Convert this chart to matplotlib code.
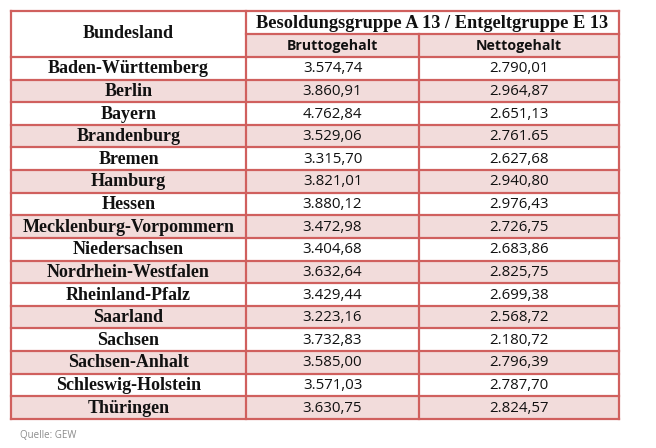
import matplotlib
matplotlib.use("Agg")
import matplotlib.pyplot as plt
from matplotlib.patches import Rectangle

states = ["Baden-Württemberg", "Berlin", "Bayern", "Brandenburg", "Bremen", "Hamburg",
          "Hessen", "Mecklenburg-Vorpommern", "Niedersachsen", "Nordrhein-Westfalen",
          "Rheinland-Pfalz", "Saarland", "Sachsen", "Sachsen-Anhalt",
          "Schleswig-Holstein", "Thüringen"]
brutto = ["3.574,74", "3.860,91", "4.762,84", "3.529,06", "3.315,70", "3.821,01",
          "3.880,12", "3.472,98", "3.404,68", "3.632,64", "3.429,44", "3.223,16",
          "3.732,83", "3.585,00", "3.571,03", "3.630,75"]
netto = ["2.790,01", "2.964,87", "2.651,13", "2.761.65", "2.627,68", "2.940,80",
         "2.976,43", "2.726,75", "2.683,86", "2.825,75", "2.699,38", "2.568,72",
         "2.180,72", "2.796,39", "2.787,70", "2.824,57"]
header_main = "Bundesland"
header_group = "Besoldungsgruppe A 13 / Entgeltgruppe E 13"
header_cols = ["Bruttogehalt", "Nettogehalt"]
source = "Quelle: GEW"

W, H = 656, 448
fig = plt.figure(figsize=(W / 100, H / 100), dpi=100)
ax = fig.add_axes([0, 0, 1, 1])
ax.set_xlim(0, W)
ax.set_ylim(H, 0)
ax.axis("off")

border = "#D0605E"
pink = "#F2DCDB"
x0, x1, x2, x3 = 11, 246, 419, 619
y0, yh1, yh2, y_end = 11, 34, 57, 419
n = len(states)
rh = (y_end - yh2) / n

serif = ["Liberation Serif", "DejaVu Serif"]
sans = ["Open Sans", "DejaVu Sans"]

# backgrounds
ax.add_patch(Rectangle((x1, yh1), x3 - x1, yh2 - yh1, facecolor=pink, edgecolor="none"))
for i in range(n):
    if i % 2 == 1:
        ax.add_patch(Rectangle((x0, yh2 + i * rh), x3 - x0, rh, facecolor=pink, edgecolor="none"))

lw = 1.6
ax.plot([x0, x3], [y0, y0], color=border, lw=lw, solid_capstyle="projecting")
ax.plot([x1, x3], [yh1, yh1], color=border, lw=lw)
for i in range(n + 1):
    y = yh2 + i * rh
    ax.plot([x0, x3], [y, y], color=border, lw=lw, solid_capstyle="projecting")
ax.plot([x0, x0], [y0, y_end], color=border, lw=lw, solid_capstyle="projecting")
ax.plot([x1, x1], [y0, y_end], color=border, lw=lw)
ax.plot([x2, x2], [yh1, y_end], color=border, lw=lw)
ax.plot([x3, x3], [y0, y_end], color=border, lw=lw, solid_capstyle="projecting")

tc = "#111111"
ax.text((x0 + x1) / 2, (y0 + yh2) / 2, header_main, ha="center", va="center",
        family=serif, weight="bold", fontsize=13, color=tc)
ax.text((x1 + x3) / 2, (y0 + yh1) / 2 + 0.5, header_group, ha="center", va="center",
        family=serif, weight="bold", fontsize=13.2, color=tc)
ax.text((x1 + x2) / 2, (yh1 + yh2) / 2 + 0.5, header_cols[0], ha="center", va="center",
        family=sans, weight="bold", fontsize=10.2, color=tc)
ax.text((x2 + x3) / 2, (yh1 + yh2) / 2 + 0.5, header_cols[1], ha="center", va="center",
        family=sans, weight="bold", fontsize=10.2, color=tc)

for i in range(n):
    yc = yh2 + (i + 0.5) * rh + 0.5
    ax.text((x0 + x1) / 2, yc, states[i], ha="center", va="center",
            family=serif, weight="bold", fontsize=13, color=tc)
    ax.text((x1 + x2) / 2, yc, brutto[i], ha="center", va="center",
            family=sans, fontsize=10.8, color=tc)
    ax.text((x2 + x3) / 2, yc, netto[i], ha="center", va="center",
            family=sans, fontsize=10.8, color=tc)

ax.text(20, 436, source, ha="left", va="center", family=sans, fontsize=7, color="#8C8C8C")

fig.savefig("out.png", dpi=100)
